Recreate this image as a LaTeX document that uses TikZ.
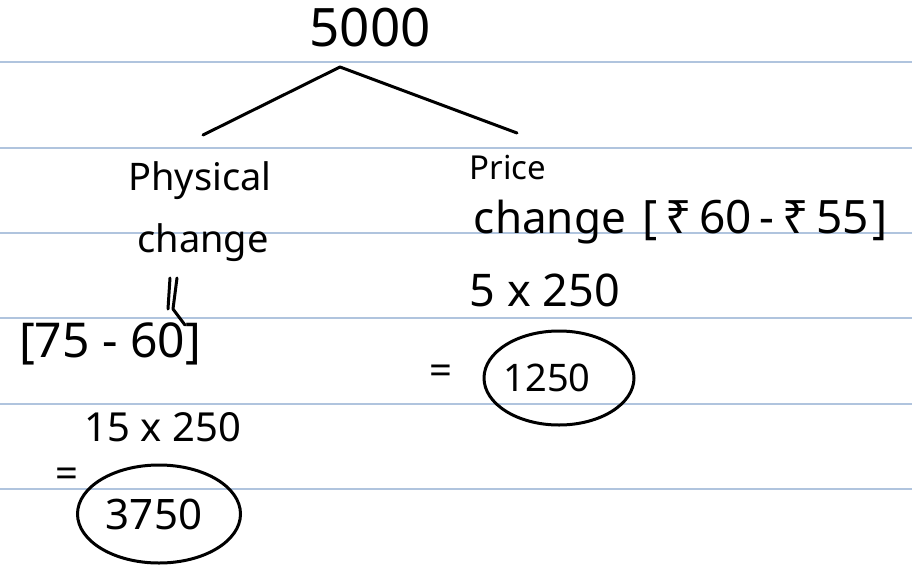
\documentclass[tikz,border=0pt]{standalone}
\usepackage{fontspec}
\setmainfont{Noto Sans}
\usetikzlibrary{shapes.geometric,arrows.meta}
\definecolor{rulecol}{RGB}{176,196,222}
\tikzset{
  hand/.style={font=\fontsize{#1}{#1}\selectfont, inner sep=0pt},
  hand/.default=38,
  pen/.style={line width=3pt, line cap=round, line join=round},
  rule/.style={draw=rulecol, line width=1.2pt},
  ring/.style={draw, ellipse, line width=3pt, inner sep=0pt}
}
\begin{document}
\begin{tikzpicture}[x=1pt,y=-1pt]
\fill[white] (0,0) rectangle (912,565);
\useasboundingbox (0,0) rectangle (912,565);
% ruled paper
\foreach \y in {62,148,233,318,404,489}
  \draw[rule] (0,\y) -- (912,\y);
% top
\node[hand=53] (total) at (370,28) {5000};
\coordinate (apex) at (340,67);
\coordinate (lfoot) at (203,135);
\coordinate (rfoot) at (517,133);
\draw[pen] (lfoot) -- (apex) -- (rfoot);
% left branch
\node[hand] (phys) at (200,181) {Physical};
\node[hand] (physch) at (203,243) {change};
\coordinate (mtop) at (170,278);
\coordinate (mbot) at (168,309);
\draw[pen] (mtop) -- (mbot);
\draw[pen] ([xshift=7pt]mtop) -- ([xshift=5pt]mbot) -- ([xshift=17pt,yshift=-16pt]mbot);
\node[hand=48] (lrange) at (110,344) {[75 - 60]};
\node[hand=40] (lcalc) at (163,427) {15 x 250};
\node[hand=40] (leq) at (67,478) {=};
\node[ring, minimum width=163pt, minimum height=98pt] (lres) at (159,514) {};
\node[hand=42] at ([xshift=-5pt]lres.center) {3750};
% right branch
\node[hand=33] (price) at (508,168) {Price};
\node[hand=44] (pricech) at (550,222) {change};
\node[hand=46] (rrange) at (765,220) {[\hspace{8pt}₹\,60\,-\,₹\,55\hspace{4pt}]};
\node[hand=45] (rcalc) at (545,290) {5 x 250};
\node[hand=40] (req) at (441,375) {=};
\node[ring, minimum width=150pt, minimum height=94pt] (rres) at (559,378) {};
\node[hand] at ([xshift=-12pt]rres.center) {1250};
\end{tikzpicture}
\end{document}
